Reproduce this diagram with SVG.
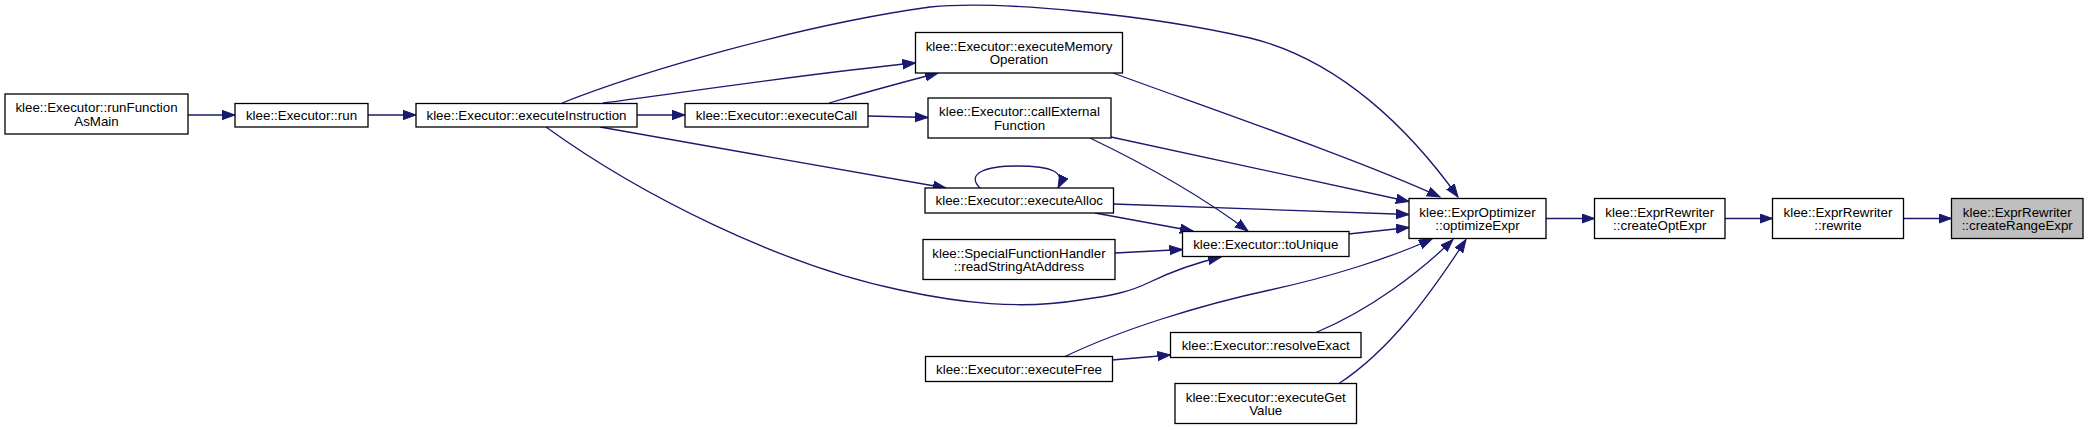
<svg xmlns="http://www.w3.org/2000/svg" width="2088" height="430" viewBox="0 0 2088 430">
<style>
.node rect{fill:#ffffff;stroke:#000000;stroke-width:1.3}
.node.hl rect{fill:#bfbfbf}
.node text{font-family:"Liberation Sans",Arial,Helvetica,sans-serif;font-size:13.33px;fill:#000000;text-anchor:middle}
.edges path{fill:none;stroke:#191970;stroke-width:1.3;marker-end:url(#arr)}
</style>
<defs>
<marker id="arr" markerUnits="userSpaceOnUse" markerWidth="15" markerHeight="12" refX="13" refY="5" orient="auto" viewBox="0 0 15 12">
<path d="M0,0.3 L13,5 L0,9.7 z" fill="#191970" stroke="#191970" stroke-width="1"/>
</marker>
</defs>
<rect x="0" y="0" width="2088" height="430" fill="#ffffff"/>
<g class="edges">
<path d="M188,115 L235,115"/>
<path d="M368,115 L416,115"/>
<path d="M637,115 L685,115"/>
<path d="M603,103 C 700,90 820,72 915.5,63"/>
<path d="M829,103 C 860,94 900,83 938,73"/>
<path d="M868,116 L928,117.5"/>
<path d="M562,103 C 640,72 800,25 930,7 C 1000,0 1150,15 1250,38 C 1340,60 1410,130 1458,197"/>
<path d="M600,127 C 700,145 850,171 946,188"/>
<path d="M546,127 C 640,195 780,265 900,290 C 960,303 1020,310 1080,300 C 1110,296 1130,292 1150,282 C 1175,270 1195,263 1221,257"/>
<path d="M980,188 C 966,174 984,166 1017,166 C 1052,166 1066,172 1058,188"/>
<path d="M1113,73 C 1200,105 1360,160 1440,197"/>
<path d="M1111,137 L1409,201.5"/>
<path d="M1090,138 C 1140,162 1200,195 1248,231"/>
<path d="M1113.5,204 L1409,214.5"/>
<path d="M1095,213 L1193,231"/>
<path d="M1115,253 L1182.5,249.5"/>
<path d="M1348.5,234 L1409,227.5"/>
<path d="M1064,357 C 1120,330 1200,305 1270,290 C 1330,277 1390,258 1432,239"/>
<path d="M1112,360 L1170.5,355"/>
<path d="M1316,332.5 C 1370,310 1420,272 1453,239.5"/>
<path d="M1339,383.5 C 1390,350 1430,295 1466,239.5"/>
<path d="M1546,218.5 L1594.5,218.5"/>
<path d="M1725,218.5 L1772.5,218.5"/>
<path d="M1903.5,218.5 L1951.5,218.5"/>
</g>
<g id="runFunctionAsMain" class="node"><rect x="5" y="94" width="183" height="40"/><text x="96.5" y="112">klee::Executor::runFunction</text><text x="96.5" y="125.5">AsMain</text></g>
<g id="run" class="node"><rect x="235" y="103.5" width="133" height="23.5"/><text x="301.5" y="120">klee::Executor::run</text></g>
<g id="executeInstruction" class="node"><rect x="416" y="103.5" width="221" height="23.5"/><text x="526.5" y="120">klee::Executor::executeInstruction</text></g>
<g id="executeCall" class="node"><rect x="685" y="103.5" width="183" height="23.5"/><text x="776.5" y="120">klee::Executor::executeCall</text></g>
<g id="executeMemoryOperation" class="node"><rect x="915.5" y="32.5" width="207" height="40.5"/><text x="1019" y="50.5">klee::Executor::executeMemory</text><text x="1019" y="64">Operation</text></g>
<g id="callExternalFunction" class="node"><rect x="928" y="98" width="183" height="40"/><text x="1019.5" y="116">klee::Executor::callExternal</text><text x="1019.5" y="129.5">Function</text></g>
<g id="executeAlloc" class="node"><rect x="925" y="188" width="188.5" height="25"/><text x="1019.25" y="205">klee::Executor::executeAlloc</text></g>
<g id="readStringAtAddress" class="node"><rect x="923" y="239.5" width="192" height="40"/><text x="1019" y="257.5">klee::SpecialFunctionHandler</text><text x="1019" y="271">::readStringAtAddress</text></g>
<g id="toUnique" class="node"><rect x="1182.5" y="231.5" width="166.5" height="25"/><text x="1265.75" y="248.5">klee::Executor::toUnique</text></g>
<g id="executeFree" class="node"><rect x="925.5" y="356.5" width="187" height="25"/><text x="1019" y="373.5">klee::Executor::executeFree</text></g>
<g id="resolveExact" class="node"><rect x="1170.5" y="332.5" width="190.5" height="25"/><text x="1265.75" y="349.5">klee::Executor::resolveExact</text></g>
<g id="executeGetValue" class="node"><rect x="1175" y="383.5" width="181.5" height="40"/><text x="1265.75" y="401.5">klee::Executor::executeGet</text><text x="1265.75" y="415">Value</text></g>
<g id="optimizeExpr" class="node"><rect x="1409" y="198.5" width="137" height="40"/><text x="1477.5" y="216.5">klee::ExprOptimizer</text><text x="1477.5" y="230">::optimizeExpr</text></g>
<g id="createOptExpr" class="node"><rect x="1594.5" y="198.5" width="130.5" height="40"/><text x="1659.75" y="216.5">klee::ExprRewriter</text><text x="1659.75" y="230">::createOptExpr</text></g>
<g id="rewrite" class="node"><rect x="1772.5" y="198.5" width="131" height="40"/><text x="1838" y="216.5">klee::ExprRewriter</text><text x="1838" y="230">::rewrite</text></g>
<g id="createRangeExpr" class="node hl"><rect x="1951.5" y="198.5" width="131.5" height="40"/><text x="2017.25" y="216.5">klee::ExprRewriter</text><text x="2017.25" y="230">::createRangeExpr</text></g>
</svg>
